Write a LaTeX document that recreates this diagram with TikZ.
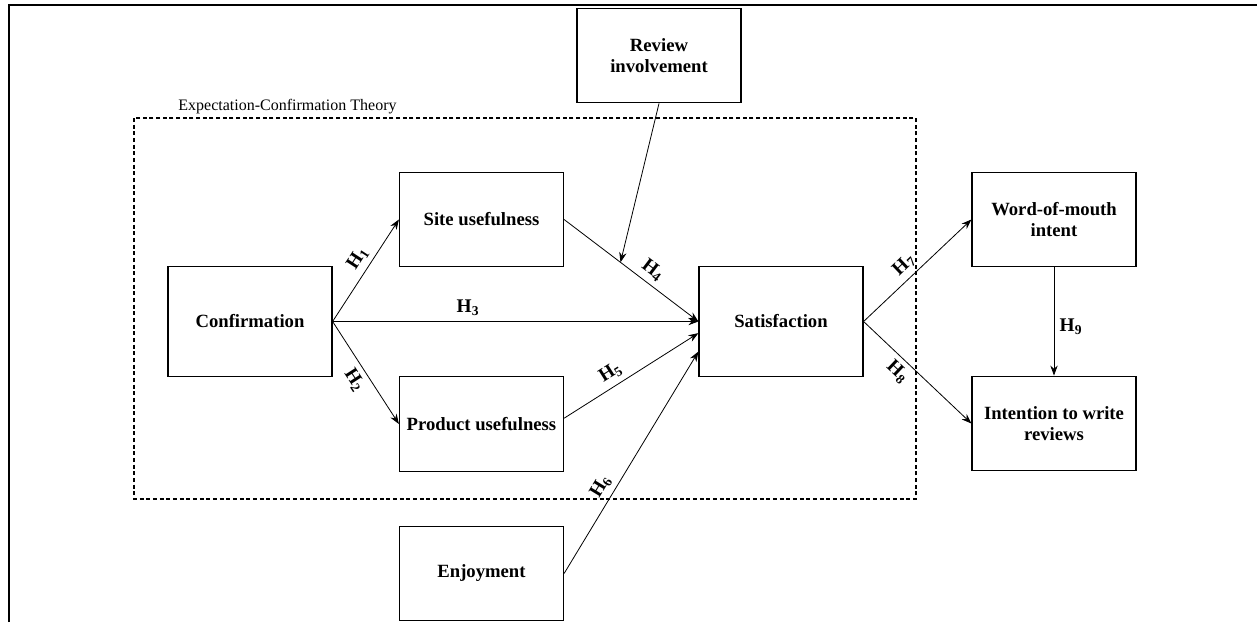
\documentclass[tikz,border=0pt]{standalone}
\usepackage{fontspec}
\setmainfont{Liberation Serif}
\usetikzlibrary{arrows.meta}

\tikzset{
  box/.style={draw,line width=0.9pt,minimum width=123pt,minimum height=71pt,
    inner sep=2pt,align=center,font=\fontsize{14}{16}\selectfont\bfseries},
  tallbox/.style={box,minimum height=82pt},
  hyp/.style={font=\fontsize{14.5}{16}\selectfont\bfseries,inner sep=4pt},
}
\newcommand{\hname}[1]{H\textsubscript{#1}}

\begin{document}
\begin{tikzpicture}[x=0.75pt,y=-0.75pt,>={Stealth[length=7.5pt,width=5.5pt]},line width=0.6pt]
\useasboundingbox (0,0) rectangle (1257,622);
\draw[line width=2.2pt] (9,622) -- (9,5) -- (1257,5);

% theory frame
\draw[dash pattern=on 3pt off 2pt,line width=0.8pt] (134,118) rectangle (916,499);
\node[anchor=base west,font=\fontsize{12}{14}\selectfont,inner sep=0pt] (ect) at (178,110) {Expectation-Confirmation Theory};

% constructs
\node[tallbox] (conf) at (250,321.5) {Confirmation};
\node[box] (site) at (481.5,219.5) {Site usefulness};
\node[box] (prod) at (481.5,424) {Product usefulness};
\node[box] (enjoy) at (481.5,573.5) {Enjoyment};
\node[box] (rev) at (659,55.5) {Review\\involvement};
\node[tallbox] (sat) at (781,321.5) {Satisfaction};
\node[box] (wom) at (1054,219.5) {Word-of-mouth\\intent};
\node[box] (intent) at (1054,423.5) {Intention to write\\reviews};

% hypotheses
\draw[->] (conf.east) -- node[hyp,sloped,above,pos=0.55] {\hname{1}} (site.west);
\draw[->] (conf.east) -- node[hyp,sloped,below,pos=0.5] {\hname{2}} (prod.west);
\draw[->] (conf.east) -- node[hyp,above,pos=0.37] {\hname{3}} (sat.west);
\draw[->] (site.east) -- coordinate[pos=0.42] (mod) node[hyp,sloped,above,pos=0.6] {\hname{4}} (sat.west);
\draw[->] (rev.south) -- (mod);
\draw[->] (prod.4) -- node[hyp,sloped,above,pos=0.4] {\hname{5}} (sat.188);
\draw[->] (enjoy.east) -- node[hyp,sloped,above,pos=0.36] {\hname{6}} (sat.200);
\draw[->] (sat.east) -- node[hyp,sloped,above,pos=0.46] {\hname{7}} (wom.west);
\draw[->] (sat.east) -- node[hyp,sloped,below,pos=0.4] {\hname{8}} (intent.west);
\draw[->] (wom.south) -- node[hyp,right,pos=0.55] {\hname{9}} (intent.north);
\end{tikzpicture}
\end{document}
